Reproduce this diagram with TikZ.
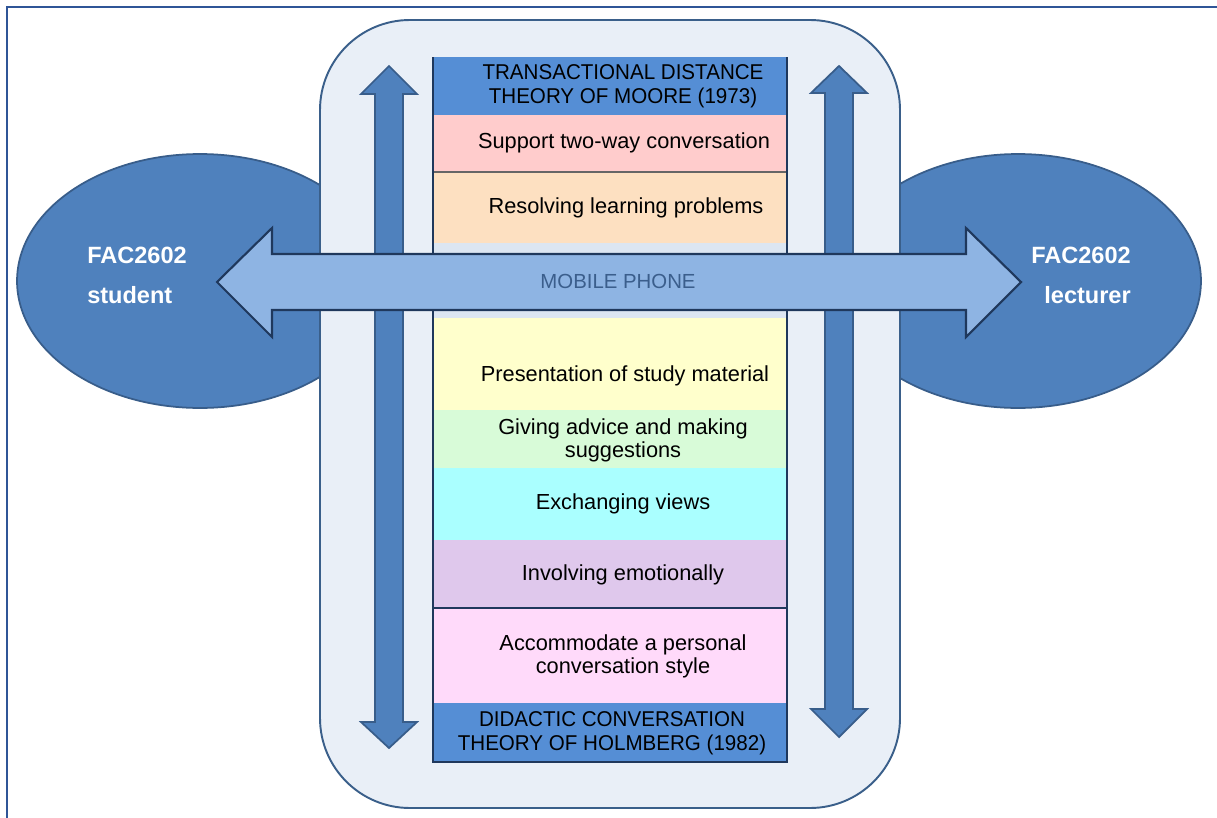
\documentclass[tikz,border=0pt]{standalone}
\usepackage{fontspec}
\setmainfont{Liberation Sans}
\usepackage{tikz}
\usetikzlibrary{shapes.geometric}

\definecolor{framecol}{RGB}{47,85,151}
\definecolor{boxfill}{RGB}{233,239,247}
\definecolor{boxline}{RGB}{58,95,138}
\definecolor{steel}{RGB}{79,129,189}
\definecolor{steelline}{RGB}{56,93,138}
\definecolor{phonefill}{RGB}{142,180,227}
\definecolor{navy}{RGB}{31,56,92}
\definecolor{phonetext}{RGB}{59,94,140}
\definecolor{titleblue}{RGB}{85,142,213}
\definecolor{gapband}{RGB}{220,230,242}
\definecolor{rowpink}{RGB}{255,204,204}
\definecolor{rowpeach}{RGB}{253,224,193}
\definecolor{rowyellow}{RGB}{255,255,204}
\definecolor{rowgreen}{RGB}{216,251,216}
\definecolor{rowcyan}{RGB}{170,255,255}
\definecolor{rowlilac}{RGB}{223,200,236}
\definecolor{rowrose}{RGB}{255,218,250}

\begin{document}
\begin{tikzpicture}[x=0.02cm,y=-0.02cm,
  oval/.style={ellipse,draw=steelline,fill=steel,line width=1pt,minimum width=7.32cm,minimum height=5.08cm},
  who/.style={text=white,font=\fontsize{13.4}{22.7}\selectfont\bfseries},
  item/.style={align=center,font=\fontsize{12.4}{13.2}\selectfont},
  theory/.style={align=center,font=\fontsize{12.2}{13.7}\selectfont,xscale=0.96,transform shape},
  updown/.style={fill=steel,draw=steelline,line width=1pt,line join=miter}]
\useasboundingbox (0,0) rectangle (1217,818);
\draw [framecol, line width=1.1pt] (7,818) -- (7,7) -- (1217,7);

% the two parties
\node [oval] (student) at (200,281) {};
\node [oval] (lecturer) at (1018,281) {};
\node [who, align=left] (studenttext) at (137,275) {FAC2602\\student};
\node [who, align=right] (lecturertext) at (1081,275) {FAC2602\\lecturer};

% rounded container
\draw [boxline, fill=boxfill, line width=1.1pt, rounded corners=1.8cm] (320,20) rectangle (900,808);

% up and down arrows
\draw [updown] (389,66) -- (417,94) -- (403,94) -- (403,722) -- (417,722) -- (389,748)
  -- (361,722) -- (375,722) -- (375,94) -- (361,94) -- cycle;
\draw [updown] (839,66) -- (867,93) -- (853,93) -- (853,709) -- (867,709) -- (839,737)
  -- (811,709) -- (825,709) -- (825,93) -- (811,93) -- cycle;

% the column of rows
\fill [titleblue] (433,57) rectangle (787,115);
\fill [rowpink] (433,115) rectangle (787,172);
\fill [rowpeach] (433,172) rectangle (787,243);
\fill [gapband] (433,243) rectangle (787,318);
\fill [rowyellow] (433,318) rectangle (787,410);
\fill [rowgreen] (433,410) rectangle (787,468);
\fill [rowcyan] (433,468) rectangle (787,540);
\fill [rowlilac] (433,540) rectangle (787,608);
\fill [rowrose] (433,608) rectangle (787,703);
\fill [titleblue] (433,703) rectangle (787,762);
\draw [black!60, line width=0.6pt] (433,172) -- (787,172);
\draw [navy, line width=0.8pt] (433,608) -- (787,608);
\draw [navy, line width=1.1pt] (433,57) -- (433,762) -- (787,762) -- (787,57);

\node [theory] (moore) at (623,86) {TRANSACTIONAL DISTANCE\\THEORY OF MOORE (1973)};
\node [item] (support) at (624,143) {Support two-way conversation};
\node [item] (resolve) at (626,208) {Resolving learning problems};
\node [item] (present) at (625,376) {Presentation of study material};
\node [item] (advice) at (623,440) {Giving advice and making\\suggestions};
\node [item] (views) at (623,504) {Exchanging views};
\node [item] (emotion) at (623,575) {Involving emotionally};
\node [item] (style) at (623,656) {Accommodate a personal\\conversation style};
\node [theory] (holmberg) at (612,733) {DIDACTIC CONVERSATION\\THEORY OF HOLMBERG (1982)};

% mobile phone, both ways
\draw [fill=phonefill, draw=navy, line width=1.2pt, line join=miter]
  (217,282) -- (272,228) -- (272,254) -- (966,254) -- (966,228) -- (1021,282)
  -- (966,337) -- (966,310) -- (272,310) -- (272,337) -- cycle;
\node [text=phonetext, font=\fontsize{11.6}{13}\selectfont] (phone) at (618,281) {MOBILE PHONE};
\end{tikzpicture}
\end{document}
